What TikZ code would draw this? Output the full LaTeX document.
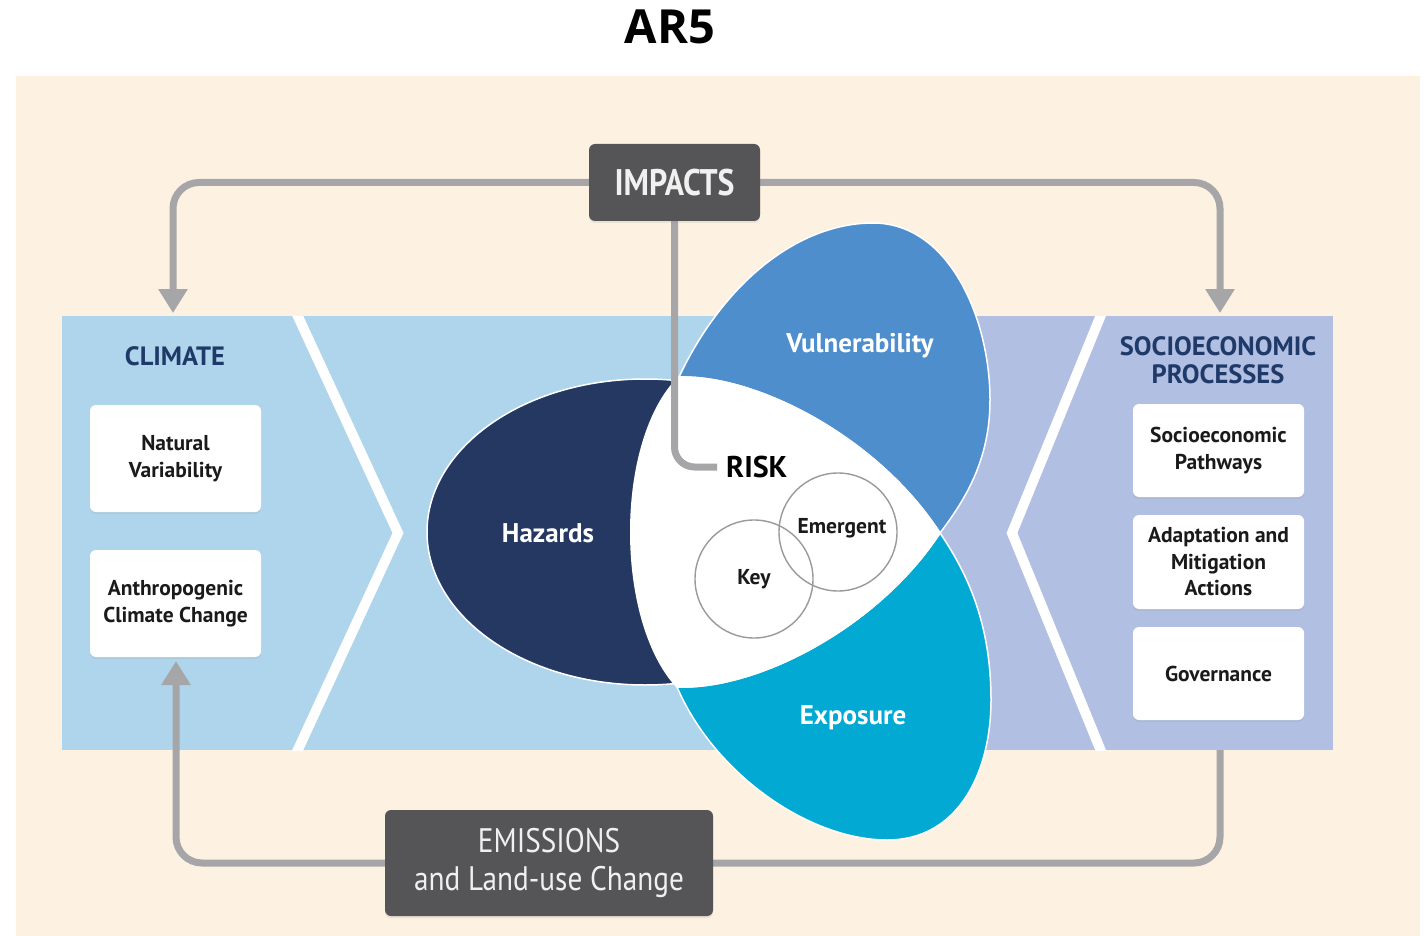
\documentclass[tikz,border=0pt]{standalone}
\usepackage{fontspec}
\setmainfont{PT Sans}
\newfontfamily\condfont{PT Sans}[FakeStretch=0.86]
\newfontfamily\titlefont{Open Sans}
\usetikzlibrary{arrows.meta,shadows}
\pgfdeclarelayer{front}
\pgfsetlayers{main,front}
\definecolor{beige}{HTML}{FDF1E2}
\definecolor{bandblue}{HTML}{AFD5EC}
\definecolor{lavender}{HTML}{B1BFE3}
\definecolor{hazcol}{HTML}{243862}
\definecolor{vulcol}{HTML}{4E8ECC}
\definecolor{expcol}{HTML}{02A9D2}
\definecolor{boxgray}{HTML}{555557}
\definecolor{arrowgray}{HTML}{A6A6A8}
\definecolor{headblue}{HTML}{1F3A68}
\definecolor{textblack}{HTML}{1A1A1A}
\definecolor{circgray}{HTML}{9A9A9A}
\begin{document}
\begin{tikzpicture}[x=1pt,y=-1pt,
  conn/.style={draw=arrowgray, line width=7pt, rounded corners=26pt},
  tipped/.style={conn, -{Triangle[length=24pt,width=28pt]}},
  whitebox/.style={fill=white, rounded corners=6pt, minimum width=171pt, inner sep=0pt, align=center, text=textblack, font=\bfseries\fontsize{21.5}{26.5}\selectfont,
     drop shadow={opacity=0.12, shadow xshift=0pt, shadow yshift=-2pt}},
  darkbox/.style={fill=boxgray, rounded corners=6pt, inner sep=0pt, align=center, text=white!94!black,
     drop shadow={opacity=0.15, shadow xshift=0pt, shadow yshift=-2pt}},
  petallabel/.style={text=white, font=\bfseries\fontsize{27}{30}\selectfont},
  heading/.style={text=headblue, align=center, font=\bfseries\fontsize{26.5}{28}\selectfont},
  riskcirc/.style={draw=circgray, line width=1.4pt, circle, minimum size=118pt, inner sep=0pt},
  petal/.style={draw=white, line width=1.5pt}
]
\useasboundingbox (0,0) rectangle (1424,936);
\fill[white] (0,0) rectangle (1424,936);
\fill[beige] (16,76) rectangle (1420,936);

% title
\node[font=\titlefont\bfseries\fontsize{47}{52}\selectfont] (title) at (670,27) {AR5};

% band
\fill[bandblue] (62,316) rectangle (942,750);
\fill[lavender] (942,316) rectangle (1333,750);
\begin{scope}
  \clip (62,316) rectangle (1333,750);
  \draw[white, line width=10pt, miter limit=10] (295,310) -- (398,533) -- (295,756);
  \draw[white, line width=10pt, miter limit=10] (1103,310) -- (1012,533) -- (1103,756);
\end{scope}

% coordinates
\coordinate (A) at (679,377);
\coordinate (B) at (940,533);
\coordinate (C) at (677,687);
\coordinate (climtop) at (173,313);
\coordinate (soctop) at (1220,313);
\coordinate (socbot) at (1220,750);
\coordinate (anthbot) at (176,661);

% petals
\fill[hazcol, petal] (645,532) ellipse [x radius=218, y radius=153];
\filldraw[vulcol, petal] (A) .. controls (725,280) and (800,223) .. (873,223)
   .. controls (950,223) and (990,320) .. (990,400)
   .. controls (990,460) and (965,500) .. (B)
   .. controls (880,440) and (760,375) .. (A) -- cycle;
\filldraw[expcol, petal] (C) .. controls (715,775) and (810,840) .. (887,840)
   .. controls (960,840) and (991,770) .. (991,700)
   .. controls (991,620) and (965,570) .. (B)
   .. controls (880,625) and (760,690) .. (C) -- cycle;
\filldraw[fill=white, petal] (A) .. controls (760,375) and (880,440) .. (B)
   .. controls (880,625) and (760,690) .. (C)
   .. controls (615,620) and (615,440) .. (A) -- cycle;

\node[petallabel] (haz) at (548,533) {Hazards};
\node[petallabel] (vul) at (860,346) {Vulnerability};
\node[petallabel] (exp) at (853,718) {Exposure};

\node[riskcirc] (keyc) at (754,579) {};
\node[riskcirc] (emc) at (838,532) {};
\node[text=textblack, font=\bfseries\fontsize{21.5}{24}\selectfont] (key) at (754,579) {Key};
\node[text=textblack, font=\bfseries\fontsize{21.5}{24}\selectfont] (emerg) at (842,528) {Emergent};
\node[text=black, font=\bfseries\fontsize{30}{36}\selectfont, inner sep=0pt, anchor=west] (risk) at (726,467) {RISK};

% headings
\node[heading] (climate) at (175,356) {CLIMATE};
\node[heading] (socio) at (1218,360) {SOCIOECONOMIC\\PROCESSES};

% boxes (front layer)
\begin{pgfonlayer}{front}
\node[whitebox, minimum height=107pt] (nat) at (175.5,458.5) {Natural\\Variability};
\node[whitebox, minimum height=107pt] (anth) at (175.5,603.5) {Anthropogenic\\Climate Change};
\node[whitebox, minimum height=93pt] (soc) at (1218.5,450.5) {Socioeconomic\\Pathways};
\node[whitebox, minimum height=94pt] (adapt) at (1218.5,562) {Adaptation and\\Mitigation\\Actions};
\node[whitebox, minimum height=93pt] (gov) at (1218.5,673.5) {Governance};
\node[darkbox, minimum width=171pt, minimum height=77pt, font=\condfont\bfseries\fontsize{37}{40}\selectfont] (impacts) at (674.5,182.5) {IMPACTS};
\node[darkbox, minimum width=328pt, minimum height=106pt, font=\condfont\fontsize{34}{38}\selectfont] (emis) at (549,863) {EMISSIONS\\and Land-use Change};
\end{pgfonlayer}

% connectors
\draw[tipped] (impacts.west) -| (climtop);
\draw[tipped] (impacts.east) -| (soctop);
\draw[conn, rounded corners=20pt] (impacts.south) |- ([xshift=-9pt]risk.west);
\draw[conn] (socbot) |- (emis.east);
\draw[tipped] (emis.west) -| (anthbot);
\end{tikzpicture}
\end{document}
